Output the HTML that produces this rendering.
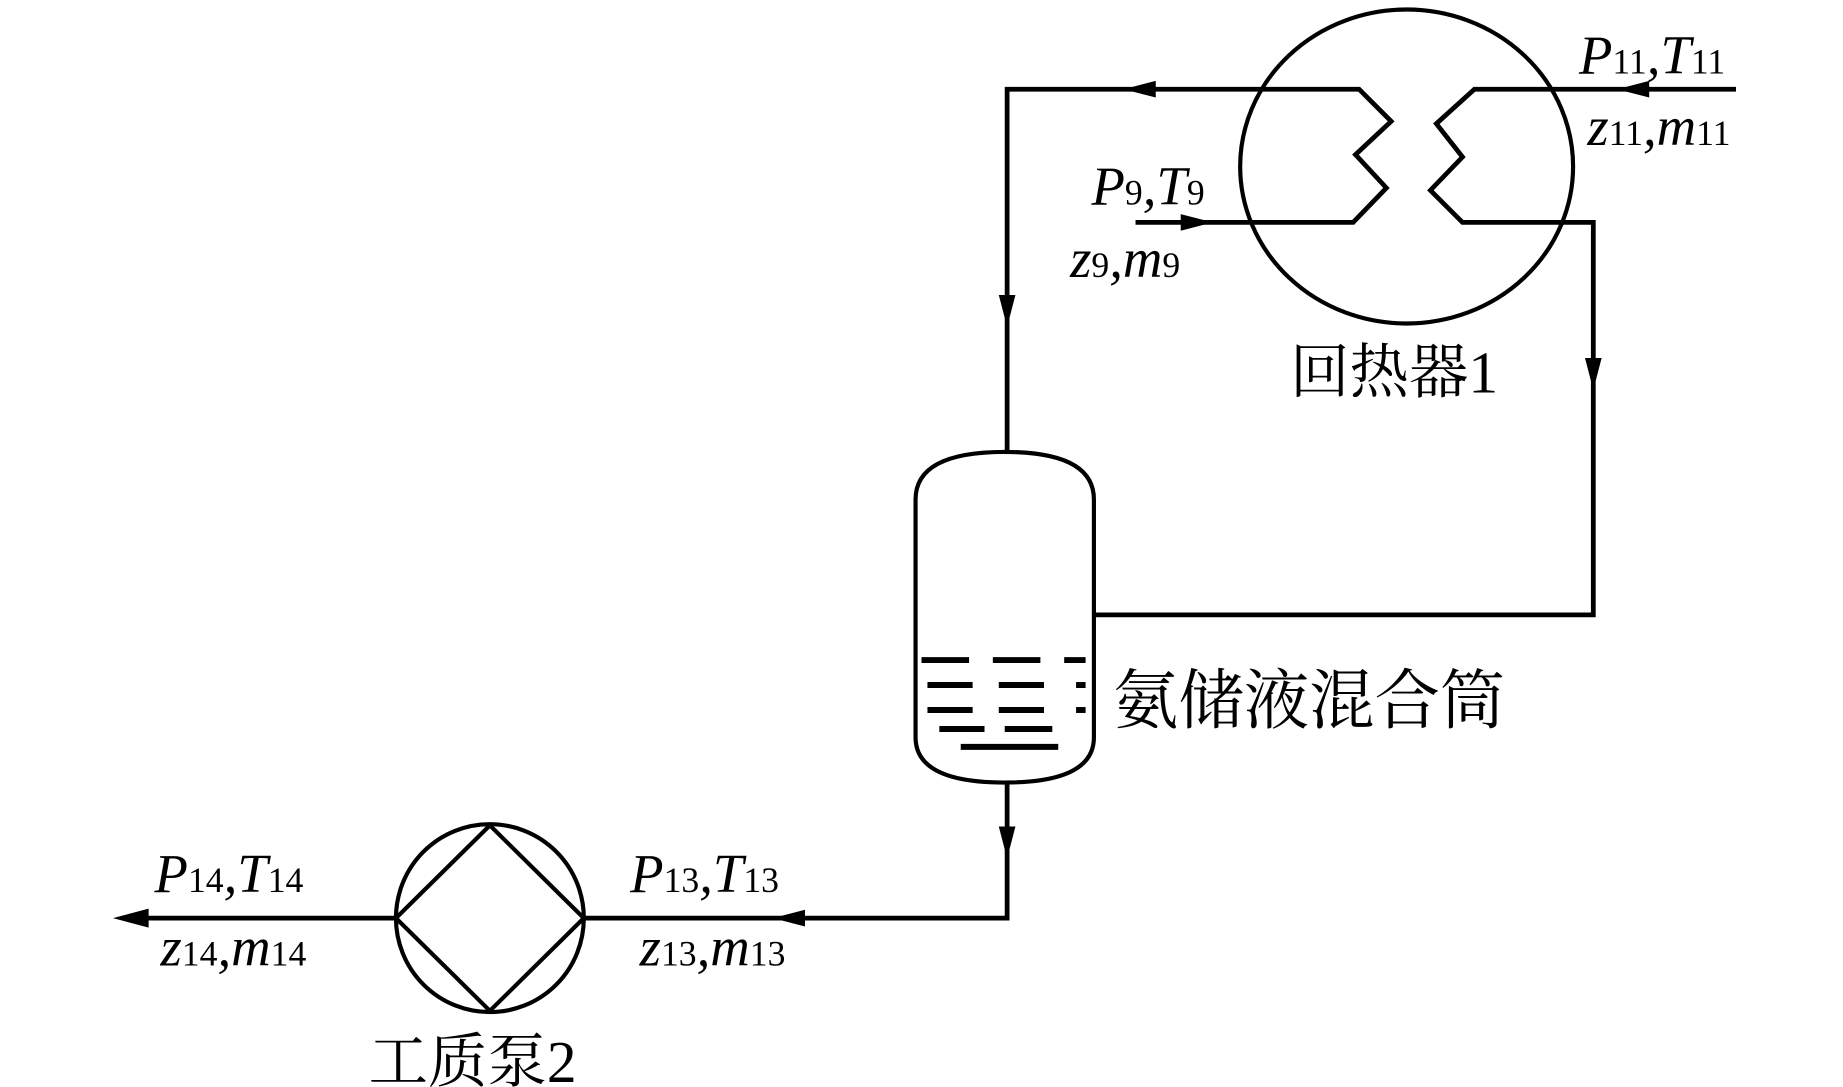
<!DOCTYPE html>
<html><head><meta charset="utf-8"><style>
html,body{margin:0;padding:0;background:#fff;}
svg{display:block}
text{font-family:"Liberation Serif","Noto Serif CJK SC",serif;fill:#000}
.it{font-style:italic}
.sb{font-style:normal;font-size:30px}
</style></head><body>
<svg width="1843" height="1087" viewBox="0 0 1550 914" preserveAspectRatio="none" xmlns="http://www.w3.org/2000/svg">
<g fill="none" stroke="#000" stroke-width="4" stroke-linejoin="miter">
<!-- heat exchanger -->
<ellipse cx="1183" cy="140" rx="140" ry="132" stroke-width="3.5"/>
<polyline points="847,380 847,75 1143,75 1170,102 1140,130 1166,158 1138,187 955,187"/>
<polyline points="1460,75 1240,75 1208,104 1230,132 1203,160 1230,187 1340,187 1340,517 920,517" />
<!-- vessel -->
<path d="M770,420 Q770,380 845,380 Q920,380 920,420 L920,620 Q920,658 845,658 Q770,658 770,620 Z" stroke-width="3.5"/>
<polyline points="847,658 847,772 492,772"/>
<line x1="332" y1="772" x2="110" y2="772"/>
<!-- pump -->
<circle cx="412" cy="772" r="79" stroke-width="3.5"/>
<polygon points="412,694 491,772 412,850 333,772" stroke-width="3.5"/>
</g>
<g stroke="#000" stroke-width="5">
<line x1="775" y1="555" x2="815" y2="555"/><line x1="835" y1="555" x2="875" y2="555"/><line x1="895" y1="555" x2="913" y2="555"/>
<line x1="780" y1="576" x2="818" y2="576"/><line x1="840" y1="576" x2="878" y2="576"/><line x1="905" y1="576" x2="913" y2="576"/>
<line x1="780" y1="597" x2="818" y2="597"/><line x1="840" y1="597" x2="878" y2="597"/><line x1="905" y1="597" x2="913" y2="597"/>
<line x1="790" y1="613" x2="828" y2="613"/><line x1="845" y1="613" x2="885" y2="613"/>
<line x1="808" y1="628" x2="890" y2="628"/>
</g>
<g fill="#000">
<polygon points="945,75 972,68 972,82"/>
<polygon points="1360,75 1387,68 1387,82"/>
<polygon points="1020,187 993,180 993,194"/>
<polygon points="847,275 840,248 854,248"/>
<polygon points="1340,328 1333,301 1347,301"/>
<polygon points="847,722 840,695 854,695"/>
<polygon points="650,772 677,765 677,779"/>
<polygon points="95,772 125,764 125,780"/>
</g>
<g font-size="46">
<text x="1328" y="62" class="it">P<tspan class="sb">11</tspan>,T<tspan class="sb">11</tspan></text>
<text x="1335" y="122" class="it">z<tspan class="sb">11</tspan>,m<tspan class="sb">11</tspan></text>
<text x="918" y="172" class="it">P<tspan class="sb">9</tspan>,T<tspan class="sb">9</tspan></text>
<text x="900" y="233" class="it">z<tspan class="sb">9</tspan>,m<tspan class="sb">9</tspan></text>
<text x="130" y="750" class="it">P<tspan class="sb">14</tspan>,T<tspan class="sb">14</tspan></text>
<text x="135" y="812" class="it">z<tspan class="sb">14</tspan>,m<tspan class="sb">14</tspan></text>
<text x="530" y="750" class="it">P<tspan class="sb">13</tspan>,T<tspan class="sb">13</tspan></text>
<text x="538" y="812" class="it">z<tspan class="sb">13</tspan>,m<tspan class="sb">13</tspan></text>
</g>
<text x="1085" y="330" font-size="50">回热器1</text>
<text x="936" y="608" font-size="55">氨储液混合筒</text>
<text x="310" y="910" font-size="50">工质泵2</text>
</svg>
</body></html>
